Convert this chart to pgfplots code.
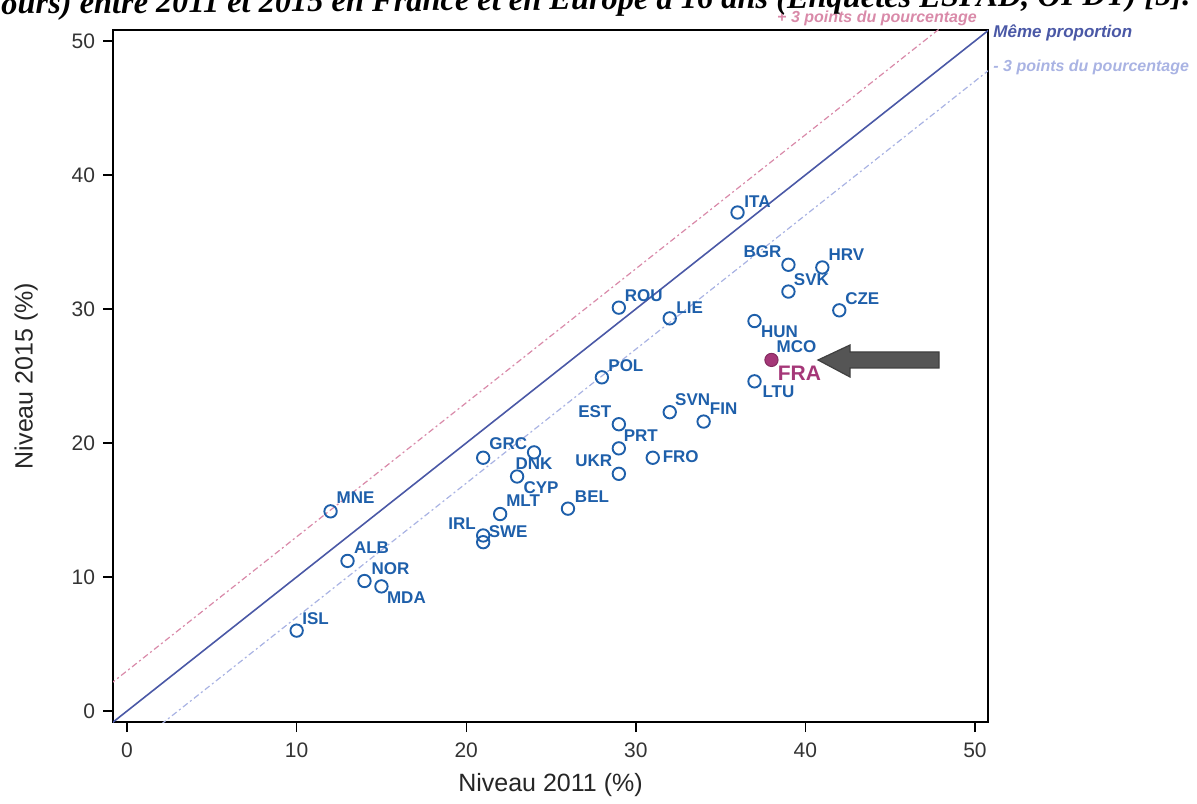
\documentclass[border=0pt]{standalone}
\usepackage{fontspec}
\setmainfont{Liberation Sans}
\newfontfamily\serif{Liberation Serif}
\usepackage{pgfplots}
\usepackage{pgfplotstable}
\pgfplotsset{compat=1.18}
\definecolor{ptblue}{RGB}{30,95,170}
\definecolor{lineblue}{RGB}{74,88,166}
\definecolor{pinkl}{RGB}{217,138,169}
\definecolor{lightb}{RGB}{169,179,227}
\definecolor{frap}{RGB}{165,55,120}
\definecolor{arrowg}{RGB}{85,85,85}

% name x y dx(pt) dy(pt)  -- label offsets
\pgfplotstableread{
name x y dx dy
ITA 36 37.2 10 5.5
BGR 39 33.3 -13 6.5
HRV 41 33.1 12 6.5
SVK 39 31.3 11.5 6
CZE 42 29.9 11.5 6
ROU 29 30.1 12.5 6
LIE 32 29.3 10 5.5
HUN 37 29.1 12.5 -5.5
POL 28 24.9 12 6
LTU 37 24.6 12 -5
SVN 32 22.3 11.5 6.5
FIN 34 21.6 10 6.5
EST 29 21.4 -12 6.5
PRT 29 19.6 11 6.5
GRC 21 18.9 12.5 7
DNK 24 19.3 0 -5.5
UKR 29 17.7 -12.5 6.5
FRO 31 18.9 14 0.5
CYP 23 17.5 12 -5.5
MLT 22 14.7 11.5 6.5
BEL 26 15.1 12 6
IRL 21 13.1 -10.5 6
SWE 21 12.6 12.5 5.5
MNE 12 14.9 12.5 7
ALB 13 11.2 12 6.5
NOR 14 9.7 13 6
MDA 15 9.3 12.5 -5.5
ISL 10 6.0 9.5 6
}\countries

\pgfplotstableread{
name x y dx dy
MCO 38 26.2 12.5 6.5
}\fra

\begin{document}
\begin{tikzpicture}
\begin{axis}[
  at={(56.5pt,40.5pt)}, anchor=south west,
  scale only axis, width=437.5pt, height=346pt,
  xmin=-0.83, xmax=50.77, ymin=-0.82, ymax=50.82,
  xtick={0,10,20,30,40,50}, ytick={0,10,20,30,40,50},
  tick align=outside, xtick pos=bottom, ytick pos=left,
  major tick length=5pt,
  tick style={black, line width=0.7pt},
  axis line style={black, line width=0.9pt},
  /pgf/number format/assume math mode=true,
  ticklabel style={font=\fontsize{10.5}{12}\selectfont, text=black!80},
  xticklabel style={yshift=-2pt},
  yticklabel style={xshift=-0.5pt},
  xlabel={Niveau 2011 (\%)}, ylabel={Niveau 2015 (\%)},
  label style={font=\fontsize{12.5}{14}\selectfont, text=black!85},
  xlabel style={yshift=-1pt},
  ylabel style={yshift=10pt},
  clip=true,
]
\addplot[lineblue, line width=0.8pt] coordinates {(-1,-1) (52,52)};
\addplot[pinkl, line width=0.6pt, dash pattern=on 3pt off 1.5pt on 1pt off 1.5pt] coordinates {(-1,2) (50,53)};
\addplot[lightb, line width=0.6pt, dash pattern=on 3pt off 1.5pt on 1pt off 1.5pt] coordinates {(2,-1) (53,50)};

\addplot[only marks, mark=o, mark size=3.1pt, ptblue, line width=0.95pt,
  point meta=explicit symbolic,
  visualization depends on={\thisrow{dx}\as\dx},
  visualization depends on={\thisrow{dy}\as\dy},
  nodes near coords,
  every node near coord/.append style={font=\bfseries\fontsize{8.5}{10}\selectfont, text=ptblue, anchor=center, inner sep=0pt, xshift=\dx pt, yshift=\dy pt},
] table[x=x, y=y, meta=name] {\countries};

\addplot[only marks, mark=*, mark size=3.3pt, frap, draw=frap!80!black, line width=0.5pt,
  point meta=explicit symbolic,
  visualization depends on={\thisrow{dx}\as\dx},
  visualization depends on={\thisrow{dy}\as\dy},
  nodes near coords,
  every node near coord/.append style={font=\bfseries\fontsize{8.5}{10}\selectfont, text=ptblue, anchor=center, inner sep=0pt, xshift=\dx pt, yshift=\dy pt},
] table[x=x, y=y, meta=name] {\fra};

\addplot[draw=none, mark=none,
  point meta=explicit symbolic,
  nodes near coords,
  every node near coord/.append style={font=\bfseries\fontsize{10.5}{12}\selectfont, text=frap, anchor=center, inner sep=0pt, xshift=14pt, yshift=-6.5pt},
] table[x=x, y=y, meta=name] {
x y name
38 26.2 FRA
};
\end{axis}

\begin{scope}[x=0.5pt, y=-0.5pt, shift={(0pt,401.5pt)}]
  % arrow
  \fill[arrowg, draw=black!75, line width=0.6pt] (818,360) -- (850,345) -- (850,352) -- (939,352) -- (939,368) -- (850,368) -- (850,377) -- cycle;
  % line labels
  \node[font=\bfseries\itshape\fontsize{8}{10}\selectfont, text=pinkl, anchor=center, inner sep=0pt] at (877,18) {+ 3 points du pourcentage};
  \node[font=\bfseries\itshape\fontsize{8.5}{10}\selectfont, text=lineblue, anchor=west, inner sep=0pt] at (993,33) {Même proportion};
  \node[font=\bfseries\itshape\fontsize{8}{10}\selectfont, text=lightb, anchor=west, inner sep=0pt] at (993,67) {- 3 points du pourcentage};
  % clipped title
  \node[font=\serif\bfseries\itshape\fontsize{16.2}{19}\selectfont, anchor=base east, inner sep=0pt, rotate=0.44] at (1191,5) {ours) entre 2011 et 2015 en France et en Europe à 16 ans (Enquêtes ESPAD, OFDT) [5].};
\end{scope}

\pgfresetboundingbox
\path[use as bounding box] (0,0) rectangle (598.5pt,401.5pt);
\end{tikzpicture}
\end{document}
